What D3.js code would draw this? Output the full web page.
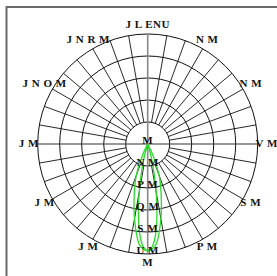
<!DOCTYPE html>
<html>
<head>
<meta charset="utf-8">
<script src="https://cdn.jsdelivr.net/npm/d3@7"></script>
<style>
  body { margin: 0; background: #fff; }
  text { font-family: 'Liberation Serif', 'DejaVu Serif', serif; font-weight: bold; font-size: 11px; fill: #111; }
</style>
</head>
<body>
<div id="chart"></div>
<script>
// angle labels every 30 deg, starting at the bottom, going counter-clockwise on screen
const angleLabels = ['M', 'P M', 'S M', 'V M', 'N M', 'N M', 'J L ENU', 'J N R M', 'J N O M', 'J M', 'J M', 'J M'];
// ring labels from the centre outward
const ringLabels = ['M', 'N M', 'P M', 'Q M', 'S M', 'U M'];
const ringValues = [0, 1, 2, 3, 4, 5];

// intensity curves: angle from nadir (deg) and value
const planeA = [[-28, 0], [-25, 0.55], [-20, 1.5], [-15, 2.36], [-10, 3.45], [-5, 4.55], [0, 4.86],
                [5, 4.55], [10, 3.45], [15, 2.36], [20, 1.5], [25, 0.55], [28, 0]];
const planeB = [[-18, 0], [-15, 0.62], [-12, 1.45], [-9, 2.6], [-6, 3.8], [-3, 4.6], [0, 4.84],
                [3, 4.6], [6, 3.8], [9, 2.6], [12, 1.45], [15, 0.62], [18, 0]];

const width = 277, height = 276;
const cx = 147.7, cy = 144, R = 110;

const svg = d3.select('#chart').append('svg')
  .attr('width', width)
  .attr('height', height);

// frame
svg.append('rect')
  .attr('x', 6.5).attr('y', 7)
  .attr('width', 300).attr('height', 300)
  .attr('fill', 'none')
  .attr('stroke', '#6a6a6a')
  .attr('stroke-width', 2);

const r = d3.scaleLinear().domain([0, 5]).range([0, R]);
const g = svg.append('g').attr('transform', 'translate(' + cx + ',' + cy + ')');

// rings
g.selectAll('circle.ring')
  .data(ringValues.slice(1))
  .join('circle')
    .attr('class', 'ring')
    .attr('r', d => r(d))
    .attr('fill', 'none')
    .attr('stroke', '#111')
    .attr('stroke-width', 1);

// spokes every 10 deg, outside the inner ring
const spokes = d3.range(0, 360, 10).filter(a => a % 90 !== 0);
g.selectAll('line.spoke')
  .data(spokes)
  .join('line')
    .attr('class', 'spoke')
    .attr('x1', a => r(1) * Math.sin(a * Math.PI / 180))
    .attr('y1', a => r(1) * Math.cos(a * Math.PI / 180))
    .attr('x2', a => r(5) * Math.sin(a * Math.PI / 180))
    .attr('y2', a => r(5) * Math.cos(a * Math.PI / 180))
    .attr('stroke', '#111')
    .attr('stroke-width', 0.9);

// axes
g.append('line')
  .attr('x1', -r(5)).attr('x2', r(5)).attr('y1', 0).attr('y2', 0)
  .attr('stroke', '#333').attr('stroke-width', 1.1);
g.append('line')
  .attr('x1', 0).attr('x2', 0).attr('y1', -r(5)).attr('y2', r(5))
  .attr('stroke', '#888').attr('stroke-width', 1.6);

// intensity curves
const line = d3.lineRadial()
  .angle(d => Math.PI - d[0] * Math.PI / 180)
  .radius(d => r(d[1]))
  .curve(d3.curveCardinal.tension(0.2));

[planeA, planeB].forEach(function(d) {
  g.append('path')
    .datum(d)
    .attr('d', line)
    .attr('fill', 'none')
    .attr('stroke', '#2bd92b')
    .attr('stroke-width', 1.3);
});

// ring labels
g.selectAll('text.ringlab')
  .data(ringValues)
  .join('text')
    .attr('class', 'ringlab')
    .attr('x', 0)
    .attr('y', d => r(d) - 2.5)
    .attr('text-anchor', 'middle')
    .attr('dominant-baseline', 'middle')
    .style('letter-spacing', '0.5px')
    .text((d, i) => ringLabels[i]);

// angle labels
g.selectAll('text.anglab')
  .data(angleLabels)
  .join('text')
    .attr('class', 'anglab')
    .attr('x', (d, i) => 119 * Math.sin(i * 30 * Math.PI / 180))
    .attr('y', (d, i) => 119 * Math.cos(i * 30 * Math.PI / 180))
    .attr('text-anchor', 'middle')
    .attr('dominant-baseline', 'middle')
    .style('letter-spacing', '0.5px')
    .text(d => d);
</script>
</body>
</html>
